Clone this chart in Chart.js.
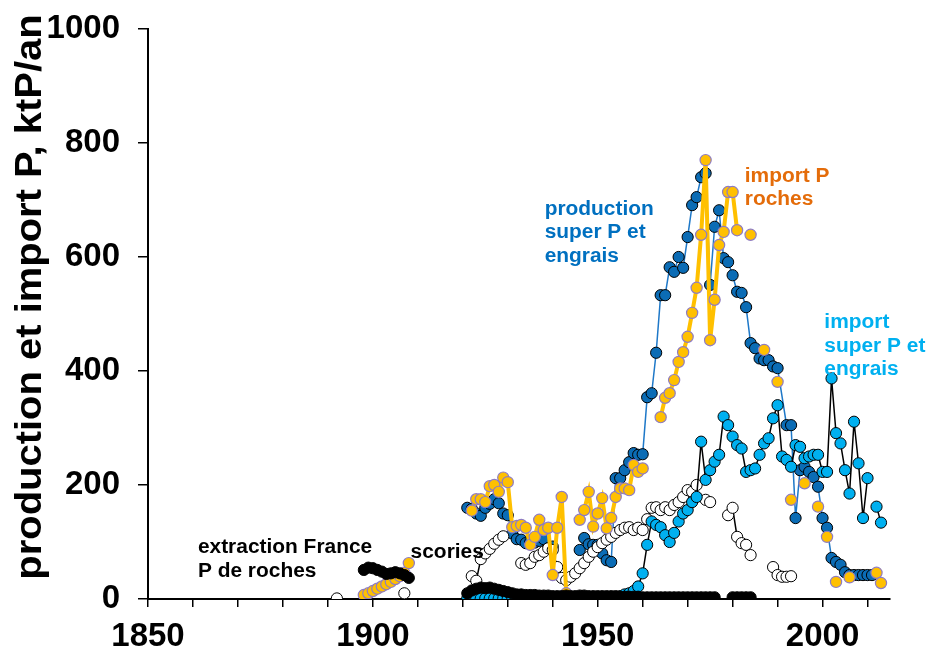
<!DOCTYPE html>
<html>
<head>
<meta charset="utf-8">
<script src="https://cdn.jsdelivr.net/npm/chart.js@4/dist/chart.umd.min.js"></script>
<style>
  html, body { margin: 0; padding: 0; background: #ffffff; }
  canvas { display: block; }
</style>
</head>
<body>
<canvas id="chart" width="928" height="654"></canvas>
<script>
// Phosphorus flows in France, ktP per year (null = no data for that year)

// Production of superphosphate and fertilisers
const prodYears = [1921,1922,1923,1924,1925,1926,1927,1928,1929,1930,1931,1932,1933,1934,1935,1936,1937,1938,1939,1940,1941,
  1946,1947,1948,1949,1950,1951,1952,1953,1954,1955,1956,1957,1958,1959,1960,1961,1962,1963,1964,1965,1966,1967,1968,1969,
  1970,1971,1972,1973,1974,1975,1976,1977,1978,1979,1980,1981,1982,1983,1984,1985,1986,1987,1988,1989,1990,
  1992,1993,1994,1995,1996,1997,1998,1999,2000,2001,2002,2003,2004,2005,2006,2007,2008,2009,2010,2011];
const prodValues = [160,158,150,146,160,167,175,168,150,147,115,105,104,98,100,99,102,105,89,92,null,
  86,107,96,95,95,80,68,65,212,212,226,240,256,253,254,354,361,432,533,533,582,574,600,581,
  635,691,705,740,747,551,653,682,598,591,568,539,537,512,449,440,422,419,419,408,405,
  305,305,142,226,232,223,214,197,142,125,72,65,60,47,42,42,42,42,42,42];

// Imports of phosphate rock
const rockYears = [1898,1899,1900,1901,1902,1903,1904,1905,1906,1907,1908,1909,
  1922,1923,1924,1925,1926,1927,1928,1929,1930,1931,1932,1933,1934,1935,1936,1937,1938,1939,1940,1941,1942,1943,1944,
  1946,1947,1948,1949,1950,1951,1952,1953,1954,1955,1956,1957,1958,1959,1960,1961,
  1964,1965,1966,1967,1968,1969,1970,1971,1972,1973,1974,1975,1976,1977,1978,1979,1980,1981,1982,
  1984,1985,1987,1988,1990,1991,1993,1994,1996,1997,1999,2000,2001,2002,2003,2004,2006,2007,2012,2013];
const rockValues = [7,10,14,18,22,26,30,35,40,46,63,null,
  155,175,175,170,198,200,188,213,205,126,128,130,125,95,109,139,121,125,42,125,179,10,null,
  139,156,188,127,150,177,124,142,179,194,194,191,235,223,229,null,
  319,353,361,384,416,433,460,502,546,639,770,454,525,621,644,714,714,647,null,
  639,null,437,null,381,null,174,null,203,null,162,null,109,null,30,null,38,null,46,28];

// Imports of superphosphate and fertilisers
const fertYears = [1921,1922,1923,1924,1925,1926,1927,1928,1929,1930,1931,
  1942,1943,1944,1945,1946,1947,1948,1949,1950,1951,1952,1953,1954,1955,1956,1957,1958,
  1959,1960,1961,1962,1963,1964,1965,1966,1967,1968,1969,1970,1971,1972,1973,1974,1975,1976,1977,1978,1979,
  1980,1981,1982,1983,1984,1985,1986,1987,1988,1989,1990,1991,1992,1993,1994,1995,1996,1997,1998,1999,
  2000,2001,2002,2003,2004,2005,2006,2007,2008,2009,2010,2011,2012,2013];
const fertValues = [1,1,1,1,1,1,1,1,1,1,1,
  1,1,1,1,1,1,1,1,1,1,1,1,3,5,8,10,14,
  22,45,95,136,130,126,112,100,116,136,150,156,170,179,276,209,226,241,253,320,305,
  285,270,264,223,226,229,253,273,282,317,340,250,244,232,270,267,247,250,253,253,
  223,223,387,291,273,226,185,311,238,142,212,null,162,134];

// Basic slag (scories)
const slagYears = [1892,1893,1907,1908,
  1922,1923,1924,1925,1926,1927,1928,1929,1930,
  1933,1934,1935,1936,1937,1938,1939,1940,1941,1942,1943,1944,1945,1946,1947,1948,1949,1950,
  1951,1952,1953,1954,1955,1956,1957,1958,1959,1960,1961,1962,1963,1964,1965,1966,1967,1968,1969,
  1970,1971,1972,1973,1974,1975,1976,1979,1980,1981,1982,1983,1984,1985,1989,1990,1991,1992,1993];
const slagValues = [1,null,10,null,
  40,32,70,80,88,97,104,110,null,
  63,60,63,74,77,83,89,86,56,37,33,39,45,54,63,74,83,91,
  98,104,109,116,121,125,126,121,125,121,140,160,161,156,161,156,165,170,179,
  191,188,200,null,174,170,null,147,160,109,98,95,77,null,56,42,39,39,40];

// Domestic extraction of phosphate rock
const extrYears = [1898,1899,1900,1901,1902,1903,1904,1905,1906,1907,1908,1909,
  1921,1922,1923,1924,1925,1926,1927,1928,1929,1930,1931,1932,1933,1934,1935,1936,1937,1938,1939,1940,
  1941,1942,1943,1944,1945,1946,1947,1948,1949,1950,1951,1952,1953,1954,1955,1956,1957,1958,1959,1960,
  1961,1962,1963,1964,1965,1966,1967,1968,1969,1970,1971,1972,1973,1974,1975,1976,1977,
  1980,1981,1982,1983,1984];
const extrValues = [51,55,54,51,48,44,45,47,45,42,37,null,
  10,15,18,20,19,20,18,16,14,12,10,8,8,7,7,7,6,6,6,5,
  5,5,6,5,5,6,6,5,5,5,5,5,5,5,4,4,4,4,4,3,
  3,3,3,3,3,3,3,3,3,3,3,3,3,3,3,3,null,
  3,3,3,3,3];

// Axis ticks
const xTickStep = 10;
const xLabelStep = 50;
const yTickStep = 200;

const pts = (xs, ys) => xs.map((x, i) => ({ x: x, y: ys[i] }));

const FONT = '"Liberation Sans", Arial, Helvetica, sans-serif';

// Text placed next to the series, anchored in data coordinates
const notes = [
  { lines: ['extraction France', 'P de roches'], x: 1861.1, y: 80.7, color: '#000000' },
  { lines: ['scories'], x: 1908.4, y: 72, color: '#000000' },
  { lines: ['production', 'super P et', 'engrais'], x: 1938.2, y: 673.7, color: '#0070C0' },
  { lines: ['import P', 'roches'], x: 1982.7, y: 731.6, color: '#E46C0A' },
  { lines: ['import', 'super P et', 'engrais'], x: 2000.4, y: 475.4, color: '#00B0F0' }
];

const notesPlugin = {
  id: 'notes',
  afterDatasetsDraw(chart) {
    const ctx = chart.ctx;
    const xs = chart.scales.x, ys = chart.scales.y;
    ctx.save();
    ctx.font = 'bold 20px ' + FONT;
    ctx.textAlign = 'left';
    ctx.textBaseline = 'alphabetic';
    notes.forEach(n => {
      const px = xs.getPixelForValue(n.x);
      const py = ys.getPixelForValue(n.y);
      ctx.fillStyle = n.color;
      n.lines.forEach((t, i) => {
        ctx.save();
        ctx.translate(px, py + i * 23.5);
        ctx.scale(1.045, 1);
        ctx.fillText(t, 0, 0);
        ctx.restore();
      });
    });
    ctx.restore();
  },
  afterDraw(chart) {
    // vertical axis title
    const ctx = chart.ctx;
    ctx.save();
    ctx.translate(31, 297);
    ctx.rotate(-Math.PI / 2);
    ctx.scale(1.11, 1);
    ctx.font = 'bold 36px ' + FONT;
    ctx.fillStyle = '#000000';
    ctx.textAlign = 'center';
    ctx.textBaseline = 'middle';
    ctx.fillText('production et import P, ktP/an', 0, 0);
    ctx.restore();
  }
};

const marker = 5.6;

new Chart(document.getElementById('chart'), {
  type: 'scatter',
  data: {
    datasets: [
      {
        label: 'extraction France P de roches',
        data: pts(extrYears, extrValues),
        showLine: true,
        borderColor: '#000000',
        borderWidth: 1.5,
        backgroundColor: '#000000',
        pointBackgroundColor: '#000000',
        pointBorderColor: '#000000',
        pointBorderWidth: 1,
        pointRadius: marker,
        order: 0
      },
      {
        label: 'import P roches',
        data: pts(rockYears, rockValues),
        showLine: true,
        borderColor: '#FFC000',
        borderWidth: 4,
        pointBackgroundColor: '#FFC000',
        pointBorderColor: '#8E7CC3',
        pointBorderWidth: 1.2,
        pointRadius: marker,
        order: 1
      },
      {
        label: 'import super P et engrais',
        data: pts(fertYears, fertValues),
        showLine: true,
        borderColor: '#000000',
        borderWidth: 1.5,
        pointBackgroundColor: '#00B0F0',
        pointBorderColor: '#000000',
        pointBorderWidth: 1,
        pointRadius: marker,
        order: 2
      },
      {
        label: 'scories',
        data: pts(slagYears, slagValues),
        showLine: true,
        borderColor: '#000000',
        borderWidth: 1.5,
        pointBackgroundColor: '#FFFFFF',
        pointBorderColor: '#000000',
        pointBorderWidth: 1,
        pointRadius: marker,
        order: 3
      },
      {
        label: 'production super P et engrais',
        data: pts(prodYears, prodValues),
        showLine: true,
        borderColor: '#1E78C8',
        borderWidth: 1.5,
        pointBackgroundColor: '#0B6CB5',
        pointBorderColor: '#000000',
        pointBorderWidth: 1,
        pointRadius: marker,
        order: 4
      }
    ]
  },
  options: {
    responsive: false,
    animation: false,
    devicePixelRatio: 1,
    layout: { padding: { top: 29, right: 38, left: 0, bottom: 0 } },
    plugins: {
      legend: { display: false },
      tooltip: { enabled: false }
    },
    elements: { line: { tension: 0 } },
    scales: {
      x: {
        type: 'linear',
        position: 'bottom',
        min: 1850,
        max: 2015,
        afterFit(scale) { scale.height = 55; },
        border: { color: '#000000', width: 2 },
        grid: { drawOnChartArea: false, drawTicks: true, tickLength: 8, color: '#000000', lineWidth: 1.5 },
        ticks: {
          stepSize: xTickStep,
          includeBounds: false,
          autoSkip: false,
          maxRotation: 0,
          padding: 10,
          color: '#000000',
          font: { family: FONT, size: 33, weight: 'bold' },
          callback: v => (v % xLabelStep === 0 ? String(v) : '')
        }
      },
      y: {
        type: 'linear',
        min: 0,
        max: 1000,
        afterFit(scale) {
          scale.width = 148;
          scale.paddingTop = 0;
          scale.paddingBottom = 0;
        },
        border: { color: '#000000', width: 2 },
        grid: { drawOnChartArea: false, drawTicks: true, tickLength: 10, color: '#000000', lineWidth: 1.5 },
        ticks: {
          stepSize: yTickStep,
          padding: 18,
          color: '#000000',
          font: { family: FONT, size: 33, weight: 'bold' },
          callback: v => String(v)
        }
      }
    }
  },
  plugins: [notesPlugin]
});
</script>
</body>
</html>
